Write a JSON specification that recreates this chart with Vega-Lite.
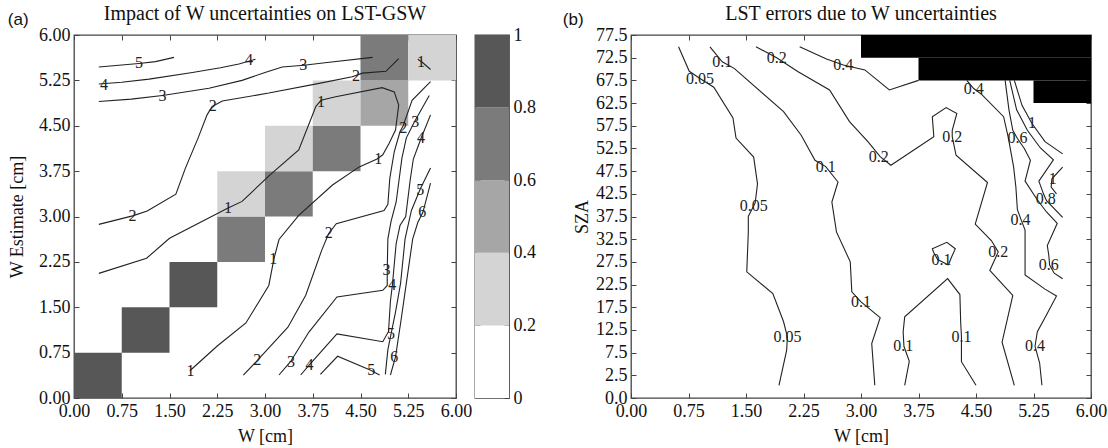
{
  "$schema": "https://vega.github.io/schema/vega-lite/v6.json",
  "padding": {"left": 7, "top": 3, "right": 0, "bottom": 0},
  "background": "white",
  "datasets": {
    "cellsA": [
      {"x0":0,"x1":0.75,"y0":0,"y1":0.75,"v":0.9},
      {"x0":0.75,"x1":1.5,"y0":0.75,"y1":1.5,"v":0.9},
      {"x0":1.5,"x1":2.25,"y0":1.5,"y1":2.25,"v":0.9},
      {"x0":2.25,"x1":3,"y0":2.25,"y1":3,"v":0.7},
      {"x0":2.25,"x1":3,"y0":3,"y1":3.75,"v":0.3},
      {"x0":3,"x1":3.75,"y0":3,"y1":3.75,"v":0.7},
      {"x0":3,"x1":3.75,"y0":3.75,"y1":4.5,"v":0.3},
      {"x0":3.75,"x1":4.5,"y0":3.75,"y1":4.5,"v":0.7},
      {"x0":3.75,"x1":4.5,"y0":4.5,"y1":5.25,"v":0.3},
      {"x0":4.5,"x1":5.25,"y0":4.5,"y1":5.25,"v":0.5},
      {"x0":4.5,"x1":5.25,"y0":5.25,"y1":6,"v":0.7},
      {"x0":5.25,"x1":6,"y0":5.25,"y1":6,"v":0.3}
    ],
    "bar": [
      {"lo":0,"hi":0.2,"v":0.1},
      {"lo":0.2,"hi":0.4,"v":0.3},
      {"lo":0.4,"hi":0.6,"v":0.5},
      {"lo":0.6,"hi":0.8,"v":0.7},
      {"lo":0.8,"hi":1,"v":0.9}
    ],
    "linesA": [
      {"id":"a5","i":0,"x":0.39,"y":5.47},{"id":"a5","i":1,"x":1.02,"y":5.53},{"id":"a5","i":2,"x":1.28,"y":5.56},{"id":"a5","i":3,"x":1.57,"y":5.63},
      {"id":"a4","i":0,"x":0.39,"y":5.19},{"id":"a4","i":1,"x":0.75,"y":5.22},{"id":"a4","i":2,"x":1.18,"y":5.27},{"id":"a4","i":3,"x":1.86,"y":5.38},{"id":"a4","i":4,"x":2.3,"y":5.46},{"id":"a4","i":5,"x":2.59,"y":5.52},{"id":"a4","i":6,"x":2.85,"y":5.6},
      {"id":"a3","i":0,"x":0.39,"y":4.9},{"id":"a3","i":1,"x":0.9,"y":4.94},{"id":"a3","i":2,"x":1.39,"y":5.0},{"id":"a3","i":3,"x":2.12,"y":5.12},{"id":"a3","i":4,"x":2.64,"y":5.25},{"id":"a3","i":5,"x":3.0,"y":5.38},{"id":"a3","i":6,"x":3.27,"y":5.47},{"id":"a3","i":7,"x":3.61,"y":5.5},{"id":"a3","i":8,"x":4.01,"y":5.55},{"id":"a3","i":9,"x":4.69,"y":5.63},
      {"id":"a2","i":0,"x":0.39,"y":2.87},{"id":"a2","i":1,"x":0.92,"y":3.01},{"id":"a2","i":2,"x":1.15,"y":3.09},{"id":"a2","i":3,"x":1.6,"y":3.37},{"id":"a2","i":4,"x":1.75,"y":3.8},{"id":"a2","i":5,"x":1.95,"y":4.3},{"id":"a2","i":6,"x":2.09,"y":4.68},{"id":"a2","i":7,"x":2.17,"y":4.82},{"id":"a2","i":8,"x":2.33,"y":4.91},{"id":"a2","i":9,"x":3.06,"y":5.04},{"id":"a2","i":10,"x":3.85,"y":5.2},{"id":"a2","i":11,"x":4.37,"y":5.31},{"id":"a2","i":12,"x":4.53,"y":5.37},{"id":"a2","i":13,"x":4.9,"y":5.4},{"id":"a2","i":14,"x":5.1,"y":5.61},
      {"id":"a1","i":0,"x":0.39,"y":2.06},{"id":"a1","i":1,"x":1.14,"y":2.31},{"id":"a1","i":2,"x":1.5,"y":2.64},{"id":"a1","i":3,"x":2.42,"y":3.14},{"id":"a1","i":4,"x":2.64,"y":3.25},{"id":"a1","i":5,"x":3.07,"y":3.68},{"id":"a1","i":6,"x":3.53,"y":4.1},{"id":"a1","i":7,"x":3.8,"y":4.82},{"id":"a1","i":8,"x":3.88,"y":4.92},{"id":"a1","i":9,"x":4.11,"y":4.98},{"id":"a1","i":10,"x":4.84,"y":5.13},{"id":"a1","i":11,"x":5.03,"y":5.06},{"id":"a1","i":12,"x":5.1,"y":4.84},{"id":"a1","i":13,"x":5.05,"y":4.43},{"id":"a1","i":14,"x":4.95,"y":4.21},{"id":"a1","i":15,"x":4.85,"y":4.02},{"id":"a1","i":16,"x":4.76,"y":3.95},{"id":"a1","i":17,"x":4.48,"y":3.82},{"id":"a1","i":18,"x":4.06,"y":3.52},{"id":"a1","i":19,"x":3.53,"y":3.02},{"id":"a1","i":20,"x":3.22,"y":2.62},{"id":"a1","i":21,"x":3.14,"y":2.3},{"id":"a1","i":22,"x":3.06,"y":1.86},{"id":"a1","i":23,"x":2.7,"y":1.24},{"id":"a1","i":24,"x":2.25,"y":0.86},{"id":"a1","i":25,"x":1.82,"y":0.45},
      {"id":"a1b","i":0,"x":5.4,"y":5.6},{"id":"a1b","i":1,"x":5.47,"y":5.55},{"id":"a1b","i":2,"x":5.6,"y":5.43},
      {"id":"a2b","i":0,"x":2.66,"y":0.38},{"id":"a2b","i":1,"x":2.88,"y":0.62},{"id":"a2b","i":2,"x":3.36,"y":1.17},{"id":"a2b","i":3,"x":3.64,"y":1.7},{"id":"a2b","i":4,"x":3.89,"y":2.44},{"id":"a2b","i":5,"x":4.0,"y":2.72},{"id":"a2b","i":6,"x":4.12,"y":2.88},{"id":"a2b","i":7,"x":4.87,"y":3.1},{"id":"a2b","i":8,"x":4.93,"y":3.2},{"id":"a2b","i":9,"x":4.96,"y":3.63},{"id":"a2b","i":10,"x":5.03,"y":4.07},{"id":"a2b","i":11,"x":5.12,"y":4.4},{"id":"a2b","i":12,"x":5.17,"y":4.5},{"id":"a2b","i":13,"x":5.31,"y":4.92},{"id":"a2b","i":14,"x":5.6,"y":5.23},
      {"id":"a3b","i":0,"x":3.22,"y":0.38},{"id":"a3b","i":1,"x":3.4,"y":0.6},{"id":"a3b","i":2,"x":3.69,"y":1.09},{"id":"a3b","i":3,"x":4.13,"y":1.67},{"id":"a3b","i":4,"x":4.85,"y":1.78},{"id":"a3b","i":5,"x":4.92,"y":1.86},{"id":"a3b","i":6,"x":4.92,"y":2.12},{"id":"a3b","i":7,"x":4.93,"y":2.63},{"id":"a3b","i":8,"x":4.98,"y":2.92},{"id":"a3b","i":9,"x":5.06,"y":3.24},{"id":"a3b","i":10,"x":5.15,"y":3.96},{"id":"a3b","i":11,"x":5.22,"y":4.3},{"id":"a3b","i":12,"x":5.35,"y":4.57},{"id":"a3b","i":13,"x":5.58,"y":5.0},
      {"id":"a4b","i":0,"x":3.56,"y":0.38},{"id":"a4b","i":1,"x":3.7,"y":0.55},{"id":"a4b","i":2,"x":4.13,"y":1.06},{"id":"a4b","i":3,"x":4.85,"y":0.93},{"id":"a4b","i":4,"x":4.94,"y":1.1},{"id":"a4b","i":5,"x":4.97,"y":1.6},{"id":"a4b","i":6,"x":5.0,"y":1.86},{"id":"a4b","i":7,"x":5.06,"y":2.55},{"id":"a4b","i":8,"x":5.12,"y":2.85},{"id":"a4b","i":9,"x":5.21,"y":3.0},{"id":"a4b","i":10,"x":5.28,"y":3.6},{"id":"a4b","i":11,"x":5.33,"y":3.95},{"id":"a4b","i":12,"x":5.45,"y":4.29},{"id":"a4b","i":13,"x":5.6,"y":4.68},
      {"id":"a5b","i":0,"x":3.87,"y":0.39},{"id":"a5b","i":1,"x":4.14,"y":0.69},{"id":"a5b","i":2,"x":4.66,"y":0.46},{"id":"a5b","i":3,"x":4.8,"y":0.38},
      {"id":"a5c","i":0,"x":4.89,"y":0.39},{"id":"a5c","i":1,"x":4.93,"y":0.8},{"id":"a5c","i":2,"x":4.98,"y":1.06},{"id":"a5c","i":3,"x":5.05,"y":1.42},{"id":"a5c","i":4,"x":5.13,"y":1.9},{"id":"a5c","i":5,"x":5.2,"y":2.63},{"id":"a5c","i":6,"x":5.3,"y":3.1},{"id":"a5c","i":7,"x":5.44,"y":3.46},{"id":"a5c","i":8,"x":5.6,"y":3.8},
      {"id":"a6","i":0,"x":4.97,"y":0.38},{"id":"a6","i":1,"x":5.05,"y":0.68},{"id":"a6","i":2,"x":5.14,"y":1.31},{"id":"a6","i":3,"x":5.22,"y":1.9},{"id":"a6","i":4,"x":5.32,"y":2.63},{"id":"a6","i":5,"x":5.4,"y":2.9},{"id":"a6","i":6,"x":5.48,"y":3.07},{"id":"a6","i":7,"x":5.6,"y":3.55}
    ],
    "labelsA": [
      {"t":"5","x":1.02,"y":5.53},{"t":"4","x":0.47,"y":5.18},{"t":"4","x":2.75,"y":5.58},
      {"t":"3","x":1.39,"y":5.0},{"t":"3","x":3.6,"y":5.5},
      {"t":"2","x":0.92,"y":3.01},{"t":"2","x":2.18,"y":4.82},{"t":"2","x":4.43,"y":5.33},
      {"t":"1","x":2.42,"y":3.14},{"t":"1","x":3.88,"y":4.9},{"t":"1","x":4.78,"y":3.95},{"t":"1","x":3.13,"y":2.3},{"t":"1","x":1.83,"y":0.45},{"t":"1","x":5.45,"y":5.56},
      {"t":"2","x":2.88,"y":0.62},{"t":"2","x":4.0,"y":2.72},{"t":"2","x":5.17,"y":4.47},
      {"t":"3","x":3.41,"y":0.6},{"t":"3","x":4.91,"y":2.11},{"t":"3","x":5.36,"y":4.57},
      {"t":"4","x":3.7,"y":0.54},{"t":"4","x":5.0,"y":1.86},{"t":"4","x":5.45,"y":4.29},
      {"t":"5","x":4.67,"y":0.46},{"t":"5","x":4.98,"y":1.06},{"t":"5","x":5.44,"y":3.44},
      {"t":"6","x":5.03,"y":0.68},{"t":"6","x":5.47,"y":3.07}
    ],
    "blackB": [
      {"x0":3,"x1":6,"y0":72.5,"y1":77.5},
      {"x0":3.75,"x1":6,"y0":67.5,"y1":72.5},
      {"x0":5.25,"x1":6,"y0":62.5,"y1":67.5}
    ],
    "linesB": [
      {"id":"b005","i":0,"x":0.62,"y":74.9},{"id":"b005","i":1,"x":0.76,"y":69.5},{"id":"b005","i":2,"x":0.9,"y":67.9},{"id":"b005","i":3,"x":1.08,"y":66.0},{"id":"b005","i":4,"x":1.33,"y":59.2},{"id":"b005","i":5,"x":1.37,"y":54.8},{"id":"b005","i":6,"x":1.6,"y":50.6},{"id":"b005","i":7,"x":1.65,"y":44.7},{"id":"b005","i":8,"x":1.62,"y":40.5},{"id":"b005","i":9,"x":1.53,"y":37.5},{"id":"b005","i":10,"x":1.53,"y":34.0},{"id":"b005","i":11,"x":1.51,"y":25.3},{"id":"b005","i":12,"x":1.85,"y":20.5},{"id":"b005","i":13,"x":1.99,"y":14.3},{"id":"b005","i":14,"x":2.04,"y":11.0},{"id":"b005","i":15,"x":2.03,"y":8.0},{"id":"b005","i":16,"x":1.93,"y":0.3},
      {"id":"b01a","i":0,"x":1.03,"y":74.9},{"id":"b01a","i":1,"x":1.19,"y":71.6},{"id":"b01a","i":2,"x":1.35,"y":70.1},{"id":"b01a","i":3,"x":1.99,"y":60.6},{"id":"b01a","i":4,"x":2.22,"y":55.4},{"id":"b01a","i":5,"x":2.4,"y":49.9},{"id":"b01a","i":6,"x":2.54,"y":48.5},{"id":"b01a","i":7,"x":2.7,"y":45.1},{"id":"b01a","i":8,"x":2.62,"y":40.7},{"id":"b01a","i":9,"x":2.68,"y":34.1},{"id":"b01a","i":10,"x":2.86,"y":27.5},{"id":"b01a","i":11,"x":2.88,"y":20.9},{"id":"b01a","i":12,"x":3.0,"y":18.7},{"id":"b01a","i":13,"x":3.25,"y":15.2},{"id":"b01a","i":14,"x":3.14,"y":9.5},{"id":"b01a","i":15,"x":3.18,"y":0.3},
      {"id":"b02a","i":0,"x":1.63,"y":74.9},{"id":"b02a","i":1,"x":1.9,"y":72.5},{"id":"b02a","i":2,"x":2.18,"y":69.4},{"id":"b02a","i":3,"x":2.59,"y":65.4},{"id":"b02a","i":4,"x":2.85,"y":58.4},{"id":"b02a","i":5,"x":3.09,"y":54.0},{"id":"b02a","i":6,"x":3.25,"y":50.7},{"id":"b02a","i":7,"x":3.39,"y":48.8},{"id":"b02a","i":8,"x":3.95,"y":55.1},{"id":"b02a","i":9,"x":3.93,"y":59.5},{"id":"b02a","i":10,"x":4.11,"y":61.5},{"id":"b02a","i":11,"x":4.25,"y":60.2},{"id":"b02a","i":12,"x":4.19,"y":56.5},{"id":"b02a","i":13,"x":4.19,"y":55.1},{"id":"b02a","i":14,"x":4.24,"y":51.0},{"id":"b02a","i":15,"x":4.65,"y":45.0},{"id":"b02a","i":16,"x":4.49,"y":35.8},{"id":"b02a","i":17,"x":4.7,"y":32.2},{"id":"b02a","i":18,"x":4.79,"y":29.7},{"id":"b02a","i":19,"x":4.68,"y":25.6},{"id":"b02a","i":20,"x":4.98,"y":20.1},{"id":"b02a","i":21,"x":4.84,"y":9.8},{"id":"b02a","i":22,"x":5.0,"y":0.3},
      {"id":"b04a","i":0,"x":2.2,"y":74.9},{"id":"b04a","i":1,"x":2.55,"y":72.2},{"id":"b04a","i":2,"x":2.77,"y":70.9},{"id":"b04a","i":3,"x":3.05,"y":69.8},{"id":"b04a","i":4,"x":3.37,"y":65.4},{"id":"b04a","i":5,"x":3.75,"y":67.5},
      {"id":"b04b","i":0,"x":4.38,"y":67.5},{"id":"b04b","i":1,"x":4.47,"y":65.7},{"id":"b04b","i":2,"x":4.58,"y":64.3},{"id":"b04b","i":3,"x":4.86,"y":59.5},{"id":"b04b","i":4,"x":4.92,"y":55.0},{"id":"b04b","i":5,"x":4.99,"y":48.5},{"id":"b04b","i":6,"x":5.02,"y":44.0},{"id":"b04b","i":7,"x":5.04,"y":39.0},{"id":"b04b","i":8,"x":5.09,"y":36.7},{"id":"b04b","i":9,"x":5.14,"y":34.5},{"id":"b04b","i":10,"x":5.14,"y":24.6},{"id":"b04b","i":11,"x":5.4,"y":21.5},{"id":"b04b","i":12,"x":5.55,"y":20.0},{"id":"b04b","i":13,"x":5.41,"y":15.5},{"id":"b04b","i":14,"x":5.3,"y":12.1},{"id":"b04b","i":15,"x":5.27,"y":8.9},{"id":"b04b","i":16,"x":5.33,"y":5.2},{"id":"b04b","i":17,"x":5.36,"y":0.3},
      {"id":"b06","i":0,"x":4.88,"y":67.5},{"id":"b06","i":1,"x":4.93,"y":61.0},{"id":"b06","i":2,"x":4.98,"y":56.5},{"id":"b06","i":3,"x":5.04,"y":54.7},{"id":"b06","i":4,"x":5.13,"y":52.5},{"id":"b06","i":5,"x":5.21,"y":49.9},{"id":"b06","i":6,"x":5.14,"y":45.3},{"id":"b06","i":7,"x":5.29,"y":41.4},{"id":"b06","i":8,"x":5.42,"y":38.5},{"id":"b06","i":9,"x":5.56,"y":36.0},{"id":"b06","i":10,"x":5.43,"y":31.1},{"id":"b06","i":11,"x":5.45,"y":28.9},{"id":"b06","i":12,"x":5.46,"y":26.8},{"id":"b06","i":13,"x":5.52,"y":25.0},{"id":"b06","i":14,"x":5.63,"y":23.8},
      {"id":"b08","i":0,"x":4.94,"y":67.5},{"id":"b08","i":1,"x":5.03,"y":61.0},{"id":"b08","i":2,"x":5.17,"y":56.5},{"id":"b08","i":3,"x":5.34,"y":52.6},{"id":"b08","i":4,"x":5.51,"y":50.0},{"id":"b08","i":5,"x":5.32,"y":45.3},{"id":"b08","i":6,"x":5.38,"y":42.5},{"id":"b08","i":7,"x":5.42,"y":41.0},{"id":"b08","i":8,"x":5.63,"y":37.3},
      {"id":"b1a","i":0,"x":5.0,"y":67.5},{"id":"b1a","i":1,"x":5.1,"y":62.0},{"id":"b1a","i":2,"x":5.23,"y":58.0},{"id":"b1a","i":3,"x":5.4,"y":54.0},{"id":"b1a","i":4,"x":5.63,"y":51.3},
      {"id":"b1b","i":0,"x":5.63,"y":48.4},{"id":"b1b","i":1,"x":5.49,"y":45.8},{"id":"b1b","i":2,"x":5.48,"y":44.0},{"id":"b1b","i":3,"x":5.55,"y":42.5},
      {"id":"b01b","i":0,"x":4.14,"y":26.8},{"id":"b01b","i":1,"x":4.0,"y":28.0},{"id":"b01b","i":2,"x":3.95,"y":29.5},{"id":"b01b","i":3,"x":3.93,"y":30.4},{"id":"b01b","i":4,"x":4.12,"y":31.8},{"id":"b01b","i":5,"x":4.23,"y":30.4},{"id":"b01b","i":6,"x":4.18,"y":28.5},{"id":"b01b","i":7,"x":4.14,"y":26.8},
      {"id":"b01c","i":0,"x":3.57,"y":0.3},{"id":"b01c","i":1,"x":3.63,"y":5.6},{"id":"b01c","i":2,"x":3.56,"y":8.9},{"id":"b01c","i":3,"x":3.55,"y":12.1},{"id":"b01c","i":4,"x":3.57,"y":15.4},{"id":"b01c","i":5,"x":4.13,"y":23.8},{"id":"b01c","i":6,"x":4.29,"y":20.3},{"id":"b01c","i":7,"x":4.3,"y":14.3},{"id":"b01c","i":8,"x":4.31,"y":11.0},{"id":"b01c","i":9,"x":4.31,"y":5.5},{"id":"b01c","i":10,"x":4.5,"y":0.3}
    ],
    "labelsB": [
      {"t":"0.05","x":0.9,"y":67.9},{"t":"0.05","x":1.6,"y":39.9},{"t":"0.05","x":2.04,"y":11.0},
      {"t":"0.1","x":1.19,"y":71.6},{"t":"0.1","x":2.54,"y":48.5},{"t":"0.1","x":3.0,"y":18.7},{"t":"0.1","x":4.05,"y":28.0},{"t":"0.1","x":3.55,"y":9.0},{"t":"0.1","x":4.31,"y":11.0},
      {"t":"0.2","x":1.9,"y":72.5},{"t":"0.2","x":3.23,"y":50.7},{"t":"0.2","x":4.19,"y":55.1},{"t":"0.2","x":4.79,"y":29.7},
      {"t":"0.4","x":2.77,"y":70.9},{"t":"0.4","x":4.47,"y":65.7},{"t":"0.4","x":5.08,"y":36.7},{"t":"0.4","x":5.27,"y":8.9},
      {"t":"0.6","x":5.04,"y":54.7},{"t":"0.6","x":5.45,"y":26.8},
      {"t":"0.8","x":5.41,"y":41.4},
      {"t":"1","x":5.23,"y":58.0},{"t":"1","x":5.5,"y":45.8}
    ]
  },
  "spacing": 25,
  "hconcat": [
    {
      "title": {"text": "(a)", "anchor": "start", "font": "Liberation Sans", "fontSize": 17, "fontWeight": "normal", "offset": 0, "dy": 26},
      "spacing": 0,
      "hconcat": [
        {
          "width": 382,
          "height": 363,
          "title": {"text": "Impact of W uncertainties on LST-GSW", "frame": "group", "offset": 2},
          "layer": [
            {
              "data": {"name": "cellsA"},
              "mark": {"type": "rect"},
              "encoding": {
                "x": {"field": "x0", "type": "quantitative", "scale": {"domain": [0, 6], "nice": false, "zero": false}, "axis": {"values": [0, 0.75, 1.5, 2.25, 3, 3.75, 4.5, 5.25, 6], "format": ".2f", "title": "W [cm]", "titlePadding": 7}},
                "x2": {"field": "x1"},
                "y": {"field": "y0", "type": "quantitative", "scale": {"domain": [0, 6], "nice": false, "zero": false}, "axis": {"values": [0, 0.75, 1.5, 2.25, 3, 3.75, 4.5, 5.25, 6], "format": ".2f", "title": "W Estimate [cm]", "titlePadding": 12}},
                "y2": {"field": "y1"},
                "color": {"field": "v", "type": "quantitative", "scale": {"type": "threshold", "domain": [0.2, 0.4, 0.6, 0.8], "range": ["#ffffff", "#d4d4d4", "#a6a6a6", "#7b7b7b", "#575757"]}, "legend": null}
              }
            },
            {
              "data": {"name": "linesA"},
              "mark": {"type": "line", "color": "#222222", "strokeWidth": 1.1},
              "encoding": {
                "x": {"field": "x", "type": "quantitative", "axis": {"orient": "top", "values": [0, 0.75, 1.5, 2.25, 3, 3.75, 4.5, 5.25, 6], "labels": false, "title": null}},
                "y": {"field": "y", "type": "quantitative", "axis": {"orient": "right", "values": [0, 0.75, 1.5, 2.25, 3, 3.75, 4.5, 5.25, 6], "labels": false, "title": null}},
                "detail": {"field": "id"},
                "order": {"field": "i"}
              }
            },
            {
              "data": {"name": "labelsA"},
              "mark": {"type": "text", "font": "Liberation Serif", "fontSize": 16, "color": "#222222"},
              "encoding": {
                "x": {"field": "x", "type": "quantitative", "axis": null},
                "y": {"field": "y", "type": "quantitative", "axis": null},
                "text": {"field": "t"}
              }
            }
          ],
          "resolve": {"axis": {"x": "independent", "y": "independent"}}
        },
        {
          "width": 34,
          "height": 363,
          "data": {"name": "bar"},
          "layer": [
            {
              "mark": {"type": "rect"},
              "encoding": {
                "x": {"datum": 0, "type": "quantitative", "scale": {"domain": [0, 1], "nice": false}, "axis": null},
                "x2": {"datum": 1},
                "y": {"field": "lo", "type": "quantitative", "scale": {"domain": [0, 1], "nice": false}, "axis": {"orient": "right", "values": [0, 0.2, 0.4, 0.6, 0.8, 1], "format": "~g", "title": null}},
                "y2": {"field": "hi"},
                "color": {"field": "v", "type": "quantitative", "scale": {"type": "threshold", "domain": [0.2, 0.4, 0.6, 0.8], "range": ["#ffffff", "#d4d4d4", "#a6a6a6", "#7b7b7b", "#575757"]}, "legend": null}
              }
            },
            {
              "mark": {"type": "rect", "fillOpacity": 0},
              "encoding": {
                "x": {"datum": 0, "type": "quantitative", "axis": null},
                "x2": {"datum": 1},
                "y": {"field": "lo", "type": "quantitative", "axis": {"orient": "left", "values": [0.2, 0.4, 0.6, 0.8], "labels": false, "title": null}},
                "y2": {"field": "hi"}
              }
            }
          ],
          "resolve": {"axis": {"y": "independent"}}
        }
      ]
    },
    {
      "title": {"text": "(b)", "anchor": "start", "font": "Liberation Sans", "fontSize": 17, "fontWeight": "normal", "offset": 0, "dy": 26, "dx": -10},
      "hconcat": [
        {
          "width": 460,
          "height": 363,
          "title": {"text": "LST errors due to W uncertainties", "frame": "group", "offset": 2},
          "layer": [
            {
              "data": {"name": "blackB"},
              "mark": {"type": "rect", "color": "#000000"},
              "encoding": {
                "x": {"field": "x0", "type": "quantitative", "scale": {"domain": [0, 6], "nice": false, "zero": false}, "axis": {"values": [0, 0.75, 1.5, 2.25, 3, 3.75, 4.5, 5.25, 6], "format": ".2f", "title": "W [cm]", "titlePadding": 7}},
                "x2": {"field": "x1"},
                "y": {"field": "y0", "type": "quantitative", "scale": {"domain": [-2.5, 77.5], "nice": false, "zero": false}, "axis": {"values": [-2.5, 2.5, 7.5, 12.5, 17.5, 22.5, 27.5, 32.5, 37.5, 42.5, 47.5, 52.5, 57.5, 62.5, 67.5, 72.5, 77.5], "labelExpr": "datum.value < 0 ? '0.0' : format(datum.value, '.1f')", "title": "SZA", "titlePadding": 4}},
                "y2": {"field": "y1"}
              }
            },
            {
              "data": {"name": "linesB"},
              "mark": {"type": "line", "color": "#222222", "strokeWidth": 1.1},
              "encoding": {
                "x": {"field": "x", "type": "quantitative", "axis": {"orient": "top", "values": [0, 0.75, 1.5, 2.25, 3, 3.75, 4.5, 5.25, 6], "labels": false, "title": null}},
                "y": {"field": "y", "type": "quantitative", "axis": {"orient": "right", "values": [-2.5, 2.5, 7.5, 12.5, 17.5, 22.5, 27.5, 32.5, 37.5, 42.5, 47.5, 52.5, 57.5, 62.5, 67.5, 72.5, 77.5], "labels": false, "title": null}},
                "detail": {"field": "id"},
                "order": {"field": "i"}
              }
            },
            {
              "data": {"name": "labelsB"},
              "mark": {"type": "text", "font": "Liberation Serif", "fontSize": 16, "color": "#222222"},
              "encoding": {
                "x": {"field": "x", "type": "quantitative", "axis": null},
                "y": {"field": "y", "type": "quantitative", "axis": null},
                "text": {"field": "t"}
              }
            }
          ],
          "resolve": {"axis": {"x": "independent", "y": "independent"}}
        }
      ]
    }
  ],
  "config": {
    "font": "Liberation Serif",
    "view": {"stroke": "#444444", "strokeWidth": 1.3},
    "title": {"font": "Liberation Serif", "fontSize": 20, "fontWeight": "normal", "color": "#111111"},
    "axis": {
      "labelFont": "Liberation Serif",
      "labelFontSize": 18,
      "labelColor": "#111111",
      "titleFont": "Liberation Serif",
      "titleFontSize": 18,
      "titleFontWeight": "normal",
      "titleColor": "#111111",
      "domain": false,
      "grid": false,
      "ticks": true,
      "tickSize": -5,
      "tickColor": "#444444",
      "labelPadding": 9,
      "labelFlush": false,
      "labelOverlap": false,
      "labelBound": false,
      "titlePadding": 6
    }
  }
}
